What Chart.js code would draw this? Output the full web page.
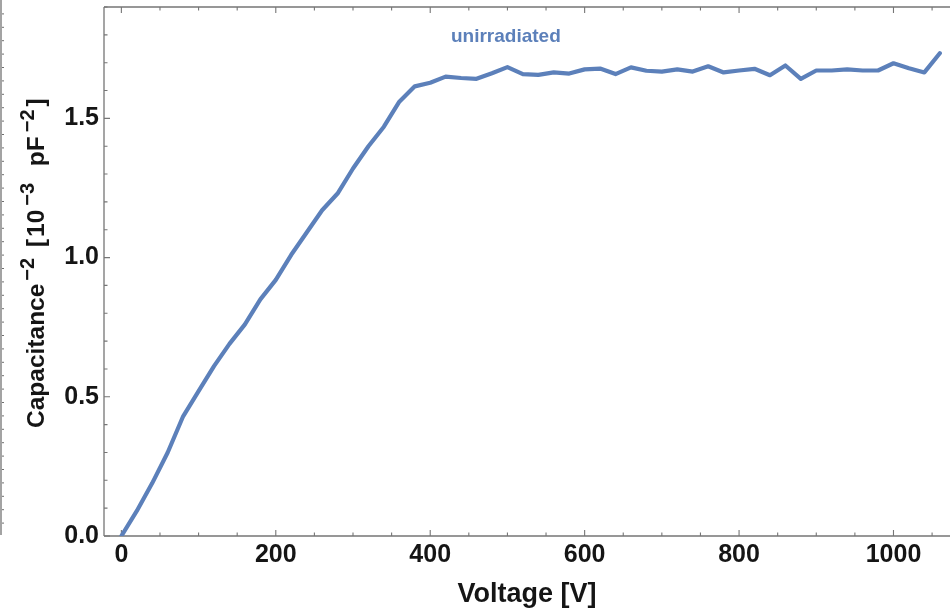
<!DOCTYPE html>
<html>
<head>
<meta charset="utf-8">
<script src="https://cdn.jsdelivr.net/npm/chart.js@4.4.1/dist/chart.umd.min.js"></script>
<style>
  html, body { margin: 0; padding: 0; background: #ffffff; }
  #wrap { width: 950px; height: 612px; position: relative; }
</style>
</head>
<body>
<div id="wrap"><canvas id="cv" width="950" height="612"></canvas></div>
<script>
// Bias voltage of each measurement [V]
const voltage = [
  0, 20, 40, 60, 80, 100, 120, 140, 160, 180,
  200, 220, 240, 260, 280, 300, 320, 340, 360, 380,
  400, 420, 440, 460, 480, 500, 520, 540, 560, 580,
  600, 620, 640, 660, 680, 700, 720, 740, 760, 780,
  800, 820, 840, 860, 880, 900, 920, 940, 960, 980,
  1000, 1020, 1040, 1060
];

// 1/C^2 of the unirradiated sensor [10^-3 pF^-2]
const capInvSq = [
  0.00, 0.09, 0.19, 0.30, 0.43, 0.52, 0.61, 0.69, 0.76, 0.85,
  0.92, 1.01, 1.09, 1.17, 1.23, 1.32, 1.40, 1.47, 1.56, 1.615,
  1.628, 1.650, 1.645, 1.642, 1.662, 1.684, 1.659, 1.656, 1.665, 1.661,
  1.676, 1.679, 1.659, 1.683, 1.671, 1.668, 1.676, 1.668, 1.687, 1.665,
  1.672, 1.678, 1.655, 1.690, 1.642, 1.672, 1.672, 1.676, 1.672, 1.672,
  1.698, 1.680, 1.665, 1.734
];

// Axis ranges and tick spacing
const xRange = [-22.5, 1073.2];
const yRange = [0, 1.9];
const xMajorStep = 200, xMinorStep = 50;
const yMajorStep = 0.5, yMinorStep = 0.1;

// Series label and where it sits (data coordinates)
const seriesLabel = 'unirradiated';
const seriesLabelAt = { x: 498, y: 1.774 };

const LINE_COLOR = '#5C80BA';
const FRAME_COLOR = '#767676';
const TEXT_COLOR = '#151515';
const FONT = '"Liberation Sans", Arial, sans-serif';

// y-axis title with superscripts (gap = extra space before the piece, px)
const yTitleParts = [
  { t: 'Capacitance', sup: false, gap: 0 },
  { t: '\u22122', sup: true, gap: 3 },
  { t: ' [', sup: false, gap: 4 },
  { t: '10', sup: false, gap: 2 },
  { t: '\u22123', sup: true, gap: 4 },
  { t: '  pF', sup: false, gap: 3 },
  { t: '\u22122', sup: true, gap: 4 },
  { t: ']', sup: false, gap: 3 }
];

const points = voltage.map((v, i) => ({ x: v, y: capInvSq[i] }));

function stepValues(min, max, step) {
  const out = [];
  const start = Math.ceil(min / step - 1e-9);
  for (let k = start; k * step <= max + 1e-9; k++) out.push(+(k * step).toFixed(6));
  return out;
}

// Frame with inward-pointing major/minor ticks
const frameTicks = {
  id: 'frameTicks',
  beforeDatasetsDraw(chart) {
    const { ctx, chartArea: a, scales: { x, y } } = chart;
    ctx.save();
    ctx.strokeStyle = FRAME_COLOR;
    ctx.lineWidth = 1.3;
    ctx.beginPath();
    ctx.moveTo(a.left, a.top); ctx.lineTo(a.left, a.bottom);
    ctx.moveTo(a.left, a.bottom); ctx.lineTo(a.right, a.bottom);
    ctx.moveTo(a.left, a.top); ctx.lineTo(a.right, a.top);
    ctx.stroke();

    ctx.lineWidth = 1.1;
    ctx.beginPath();
    stepValues(xRange[0], xRange[1], xMinorStep).forEach(v => {
      const px = x.getPixelForValue(v);
      const major = Math.abs(v / xMajorStep - Math.round(v / xMajorStep)) < 1e-6;
      const len = major ? 6 : 3.5;
      ctx.moveTo(px, a.bottom); ctx.lineTo(px, a.bottom - len);
      ctx.moveTo(px, a.top); ctx.lineTo(px, a.top + len);
    });
    stepValues(yRange[0], yRange[1], yMinorStep).forEach(v => {
      const py = y.getPixelForValue(v);
      const major = Math.abs(v / yMajorStep - Math.round(v / yMajorStep)) < 1e-6;
      const len = major ? 6 : 3.5;
      ctx.moveTo(a.left, py); ctx.lineTo(a.left + len, py);
    });
    ctx.stroke();
    ctx.restore();
  },
  afterDraw(chart) {
    const { ctx, scales: { x, y } } = chart;
    ctx.save();
    // series label
    ctx.fillStyle = LINE_COLOR;
    ctx.font = 'bold 19px ' + FONT;
    ctx.textAlign = 'center';
    ctx.textBaseline = 'alphabetic';
    ctx.fillText(seriesLabel, x.getPixelForValue(seriesLabelAt.x), y.getPixelForValue(seriesLabelAt.y));

    // rotated y-axis title
    const baseFont = 'bold 24.5px ' + FONT;
    const supFont = 'bold 20px ' + FONT;
    const startY = 428, bx = 43.5;
    ctx.translate(bx, startY);
    ctx.rotate(-Math.PI / 2);
    ctx.fillStyle = TEXT_COLOR;
    ctx.textAlign = 'left';
    let pos = 0;
    yTitleParts.forEach(p => {
      ctx.font = p.sup ? supFont : baseFont;
      pos += p.gap;
      ctx.fillText(p.t, pos, p.sup ? -10 : 0);
      pos += ctx.measureText(p.t).width;
    });
    ctx.restore();

    // edge of the neighbouring panel at the far left
    ctx.save();
    ctx.strokeStyle = '#a3a3a3';
    ctx.lineWidth = 2;
    ctx.beginPath(); ctx.moveTo(1, 0); ctx.lineTo(1, 535); ctx.stroke();
    ctx.strokeStyle = '#6e6e6e';
    ctx.lineWidth = 1;
    ctx.beginPath();
    for (let t = 13.4; t < 535; t += 13.4) { ctx.moveTo(2, t + 0.5); ctx.lineTo(4, t + 0.5); }
    ctx.stroke();
    ctx.restore();
  }
};

const tickFont = { family: FONT, size: 25, weight: 'bold', lineHeight: 1.2 };

new Chart(document.getElementById('cv'), {
  type: 'scatter',
  data: {
    datasets: [{
      label: seriesLabel,
      data: points,
      showLine: true,
      borderColor: LINE_COLOR,
      backgroundColor: LINE_COLOR,
      borderWidth: 4.2,
      pointRadius: 0,
      tension: 0,
      borderJoinStyle: 'round',
      borderCapStyle: 'round'
    }]
  },
  options: {
    responsive: false,
    devicePixelRatio: 1,
    animation: false,
    layout: { padding: { left: 0, right: 0, top: 7, bottom: 0 } },
    plugins: { legend: { display: false }, tooltip: { enabled: false } },
    scales: {
      x: {
        type: 'linear',
        position: 'bottom',
        min: xRange[0],
        max: xRange[1],
        grid: { display: false, drawTicks: false },
        border: { display: false },
        ticks: {
          stepSize: xMajorStep,
          includeBounds: false,
          autoSkip: false,
          maxRotation: 0,
          padding: 4,
          color: TEXT_COLOR,
          font: tickFont,
          callback: v => String(v)
        },
        title: {
          display: true,
          text: 'Voltage [V]',
          color: TEXT_COLOR,
          font: { family: FONT, size: 27, weight: 'bold', lineHeight: 1.2 },
          padding: { top: 0, bottom: 1 }
        },
        afterFit: s => { s.height = 76; s.paddingRight = 0; }
      },
      y: {
        type: 'linear',
        position: 'left',
        min: yRange[0],
        max: yRange[1],
        grid: { display: false, drawTicks: false },
        border: { display: false },
        ticks: {
          stepSize: yMajorStep,
          includeBounds: false,
          padding: 5,
          color: TEXT_COLOR,
          font: tickFont,
          callback: v => v.toFixed(1)
        },
        afterFit: s => { s.width = 104; s.paddingTop = 0; s.paddingBottom = 0; }
      }
    }
  },
  plugins: [frameTicks]
});
</script>
</body>
</html>
